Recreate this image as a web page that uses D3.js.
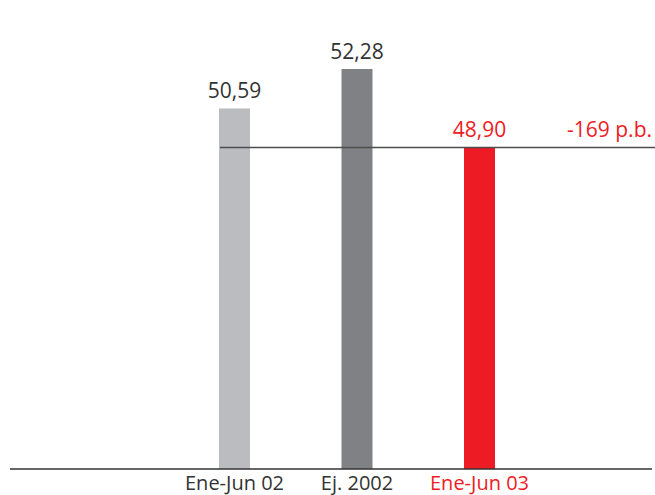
<!DOCTYPE html>
<html>
<head>
<meta charset="utf-8">
<script src="https://cdn.jsdelivr.net/npm/d3@7"></script>
<style>
  html, body { margin: 0; padding: 0; background: #fff; }
  svg { display: block; }
  text { font-family: "Open Sans", "Noto Sans", sans-serif; }
</style>
</head>
<body>
<svg id="chart" width="655" height="495"></svg>
<script>
// Periods and their values
const categories = ["Ene-Jun 02", "Ej. 2002", "Ene-Jun 03"];
const values = [50.59, 52.28, 48.90];
const valueLabels = ["50,59", "52,28", "48,90"];
const barColors = ["#bbbcc0", "#808184", "#ed1c24"];
const labelColors = ["#333333", "#333333", "#ed1c24"];
const diffLabel = "-169 p.b.";

const svg = d3.select("#chart");
const red = "#ed1c24";

const x = d3.scaleBand()
  .domain(categories)
  .range([173.25, 540.75])
  .paddingInner(0.747)
  .paddingOuter(0.3735);

const y = d3.scaleLinear()
  .domain([35.16, 52.28])
  .range([469, 69]);

const data = categories.map((c, i) => ({ c, v: values[i], lab: valueLabels[i], fill: barColors[i], tc: labelColors[i] }));

// Bars
svg.selectAll("rect.bar")
  .data(data)
  .join("rect")
  .attr("class", "bar")
  .attr("x", d => x(d.c))
  .attr("width", x.bandwidth())
  .attr("y", d => y(d.v))
  .attr("height", d => y.range()[0] - y(d.v))
  .attr("fill", d => d.fill);

// Value labels above bars
svg.selectAll("text.val")
  .data(data)
  .join("text")
  .attr("class", "val")
  .attr("x", d => x(d.c) + x.bandwidth() / 2)
  .attr("y", d => y(d.v) - 10.5)
  .attr("text-anchor", "middle")
  .attr("font-size", 21)
  .attr("fill", d => d.tc)
  .text(d => d.lab);

// Reference line at the latest value
const last = data[data.length - 1];
svg.append("line")
  .attr("x1", x(categories[0]) + 1)
  .attr("x2", 655)
  .attr("y1", y(last.v) - 0.5)
  .attr("y2", y(last.v) - 0.5)
  .attr("stroke", "#4d4d4d")
  .attr("stroke-width", 1.6);

svg.append("text")
  .attr("x", 652)
  .attr("y", y(last.v) - 10.5)
  .attr("text-anchor", "end")
  .attr("font-size", 21)
  .attr("fill", red)
  .text(diffLabel);

// Baseline axis
const xAxis = d3.axisBottom(x).tickSize(0).tickPadding(0);
const gx = svg.append("g")
  .attr("transform", `translate(0,${y.range()[0]})`)
  .call(xAxis);
gx.select(".domain").remove();
gx.append("line")
  .attr("x1", 10).attr("x2", 652)
  .attr("y1", 0).attr("y2", 0)
  .attr("stroke", "#333")
  .attr("stroke-width", 1.4);
gx.selectAll(".tick text")
  .attr("dy", null)
  .attr("y", 21)
  .attr("font-size", 20)
  .attr("font-family", "\"Open Sans\", \"Noto Sans\", sans-serif")
  .attr("fill", (d, i) => labelColors[i]);
</script>
</body>
</html>
